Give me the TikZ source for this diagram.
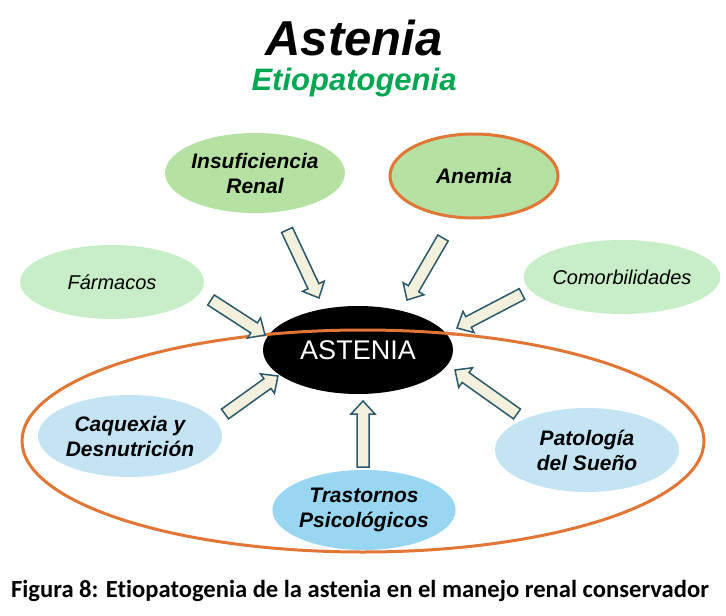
\documentclass[tikz,border=0pt]{standalone}
\usepackage{fontspec}
\setmainfont{Liberation Sans}
\newfontfamily\capfont[Ligatures=NoCommon]{Carlito}
\usetikzlibrary{shapes.geometric,calc}
\definecolor{grA}{RGB}{181,225,162}
\definecolor{grB}{RGB}{200,238,200}
\definecolor{blA}{RGB}{196,228,244}
\definecolor{blB}{RGB}{152,214,242}
\definecolor{orng}{RGB}{226,118,54}
\definecolor{arrfill}{RGB}{243,241,222}
\definecolor{arrdraw}{RGB}{42,88,108}
\definecolor{titlegreen}{RGB}{0,166,81}
\tikzset{
  bub/.style={ellipse, inner sep=0pt, align=center, font=\fontsize{21}{25}\selectfont\bfseries\itshape},
  bubgreen/.style={bub, fill=grA},
  bublight/.style={bub, fill=grB, font=\fontsize{20}{24}\selectfont\itshape},
  bubblue/.style={bub, fill=blA},
  bubblueB/.style={bub, fill=blB},
  blockarr/.style={fill=arrfill, draw=arrdraw, line width=1.5pt, line join=miter},
}
\newcommand\blockarrow[2]{%
  \draw[blockarr] let \p1=(#1), \p2=(#2),
    \n1={atan2(\y2-\y1,\x2-\x1)}, \n2={veclen(\x2-\x1,\y2-\y1)} in
    [shift={(\p1)}, rotate=\n1]
    (0pt,-6pt) -- ({\n2-13pt},-6pt) -- ({\n2-13pt},-12pt) -- ({\n2},0pt)
    -- ({\n2-13pt},12pt) -- ({\n2-13pt},6pt) -- (0pt,6pt) -- cycle;}
\begin{document}
\begin{tikzpicture}[x=1pt,y=-1pt]
\useasboundingbox[fill=white] (0,0) rectangle (726,616);
% titles
\node[font=\fontsize{49}{55}\selectfont\bfseries\itshape] (title) at (354,38) {Astenia};
\node[font=\fontsize{31}{36}\selectfont\bfseries\itshape, text=titlegreen] (sub) at (354,82) {Etiopatogenia};
% big orange ellipse
\draw[orng, line width=3pt] (363,441) ellipse [x radius=341, y radius=111];
% top bubbles
\node[bubgreen, minimum width=174, minimum height=80] (ir) at (255,173) {Insuficiencia\\Renal};
\node[bubgreen, draw=orng, line width=3pt, minimum width=168, minimum height=84] (an) at (474,176) {Anemia};
\node[bublight, minimum width=184, minimum height=74] (fa) at (112,282) {Fármacos};
\node[bublight, minimum width=190, minimum height=74] (co) at (622,277) {Comorbilidades};
% center
\node[ellipse, fill=black, text=white, inner sep=0pt, minimum width=190, minimum height=88, font=\fontsize{27}{30}\selectfont] (as) at (358,350) {ASTENIA};
% redraw orange top over black ellipse
\begin{scope}
\clip (263,300) rectangle (455,345);
\draw[orng, line width=3pt] (363,441) ellipse [x radius=341, y radius=111];
\end{scope}
% bottom bubbles
\node[bubblue, minimum width=184, minimum height=82] (cq) at (130,436) {Caquexia y\\Desnutrición};
\node[bubblueB, minimum width=182, minimum height=80] (tp) at (364,510) {Trastornos\\Psicológicos};
\node[bubblue, minimum width=184, minimum height=84] (ps) at (587,450) {Patología\\del Sueño};
% arrow endpoints
\coordinate (irT) at (287,230); \coordinate (irH) at (319,298);
\coordinate (anT) at (443,238); \coordinate (anH) at (407,300);
\coordinate (faT) at (211,300); \coordinate (faH) at (265,335);
\coordinate (coT) at (522,294); \coordinate (coH) at (457,328);
\coordinate (cqT) at (225,414); \coordinate (cqH) at (278,376);
\coordinate (tpT) at (363,467); \coordinate (tpH) at (363,401);
\coordinate (psT) at (517,414); \coordinate (psH) at (455,370);
\blockarrow{irT}{irH}
\blockarrow{anT}{anH}
\blockarrow{faT}{faH}
\blockarrow{coT}{coH}
\blockarrow{cqT}{cqH}
\blockarrow{tpT}{tpH}
\blockarrow{psT}{psH}
% caption
\node[font=\capfont\fontsize{24.6}{29}\selectfont\bfseries] (cap) at (360,591) {Figura 8: Etiopatogenia de la astenia en el manejo renal conservador};
\end{tikzpicture}
\end{document}
